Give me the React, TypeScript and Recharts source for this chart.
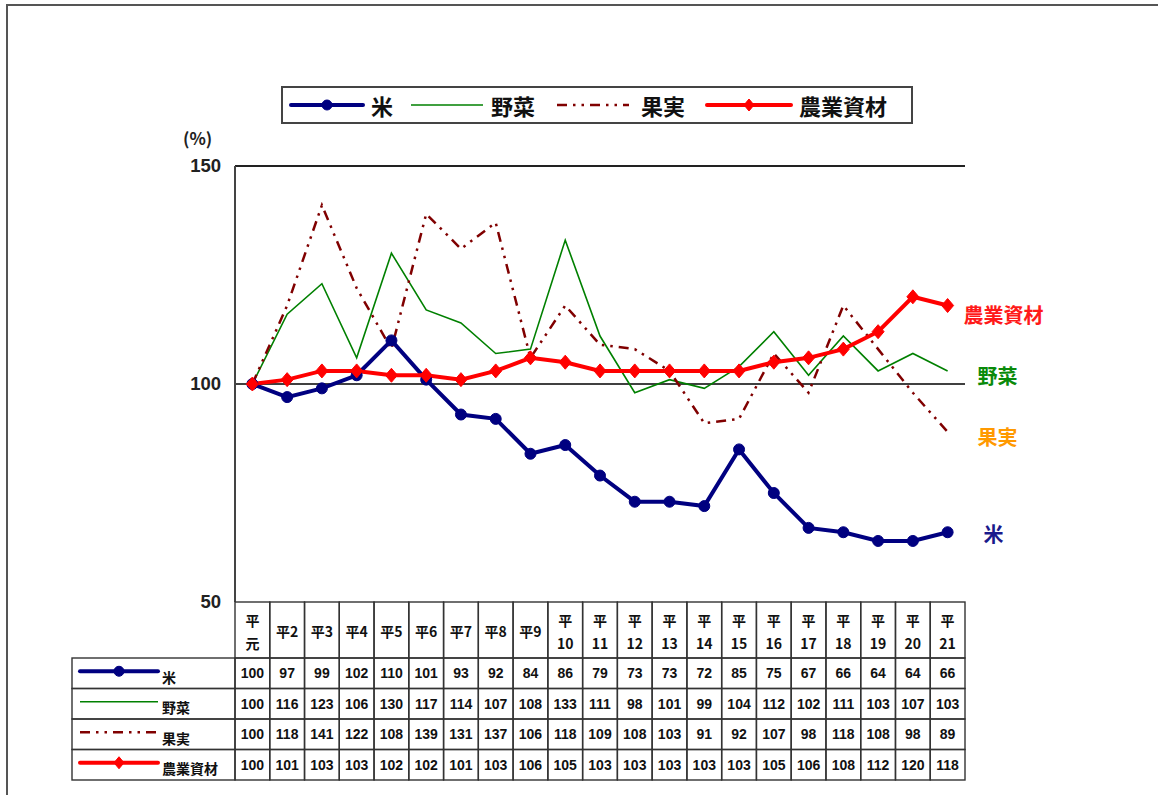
import { LineChart, Line, XAxis, YAxis, ReferenceLine } from "recharts"

const categories = [
  "平元", "平2", "平3", "平4", "平5", "平6", "平7", "平8", "平9", "平10", "平11",
  "平12", "平13", "平14", "平15", "平16", "平17", "平18", "平19", "平20", "平21",
]
const rice = [100, 97, 99, 102, 110, 101, 93, 92, 84, 86, 79, 73, 73, 72, 85, 75, 67, 66, 64, 64, 66]
const vegetables = [100, 116, 123, 106, 130, 117, 114, 107, 108, 133, 111, 98, 101, 99, 104, 112, 102, 111, 103, 107, 103]
const fruits = [100, 118, 141, 122, 108, 139, 131, 137, 106, 118, 109, 108, 103, 91, 92, 107, 98, 118, 108, 98, 89]
const materials = [100, 101, 103, 103, 102, 102, 101, 103, 106, 105, 103, 103, 103, 103, 103, 105, 106, 108, 112, 120, 118]
const yTicks = [50, 100, 150]

const data = categories.map((c, i) => ({
  name: c,
  rice: rice[i],
  vegetables: vegetables[i],
  fruits: fruits[i],
  materials: materials[i],
}))

const W = 1158
const H = 795
const PLOT_LEFT = 235
const PLOT_RIGHT = 965
const PLOT_TOP = 166
const PLOT_BOTTOM = 602
const COL_W = (PLOT_RIGHT - PLOT_LEFT) / categories.length
const HEADER_H = 56
const ROW_H = 30.5
const TABLE_LEFT = 72

const NUM_FONT = "'Liberation Sans', Arial, 'Noto Sans CJK JP', sans-serif"
const JP_FONT = "'Noto Sans CJK JP', 'Liberation Sans', sans-serif"

type Series = {
  key: string
  name: string
  values: number[]
  color: string
  width: number
  dash?: string
  marker?: "circle" | "diamond"
  labelColor: string
  labelDx: number
  labelDy: number
}

const series: Series[] = [
  { key: "rice", name: "米", values: rice, color: "#000080", width: 4, marker: "circle", labelColor: "#1a1a8c", labelDx: 36, labelDy: 3 },
  { key: "vegetables", name: "野菜", values: vegetables, color: "#008000", width: 1.6, labelColor: "#0a8a0a", labelDx: 30, labelDy: 6 },
  { key: "fruits", name: "果実", values: fruits, color: "#800000", width: 2.5, dash: "10 6 2.5 6 2.5 6", labelColor: "#ff9900", labelDx: 30, labelDy: 6 },
  { key: "materials", name: "農業資材", values: materials, color: "#ff0000", width: 4, marker: "diamond", labelColor: "#ff1a1a", labelDx: 16, labelDy: 10 },
]

// draw order: thin lines below thick ones
const drawOrder = ["vegetables", "fruits", "rice", "materials"]

function Marker({ s, cx, cy, size }: { s: Series; cx: number; cy: number; size: number }) {
  if (s.marker === "circle") return <circle cx={cx} cy={cy} r={size} fill={s.color} stroke={s.color} />
  if (s.marker === "diamond")
    return (
      <polygon
        points={`${cx},${cy - size - 1} ${cx + size},${cy} ${cx},${cy + size + 1} ${cx - size},${cy}`}
        fill={s.color}
        stroke={s.color}
      />
    )
  return null
}

function Sample({ s, x1, x2, y }: { s: Series; x1: number; x2: number; y: number }) {
  return (
    <g>
      <line x1={x1} x2={x2} y1={y} y2={y} stroke={s.color} strokeWidth={s.width} strokeDasharray={s.dash} strokeLinecap={s.marker ? "round" : "butt"} />
      <Marker s={s} cx={(x1 + x2) / 2} cy={y} size={5} />
    </g>
  )
}

function TableColumn(props: any) {
  const { x, index, payload } = props
  const label: string = payload.value
  const left = x - COL_W / 2
  const rest = label.slice(1)
  const twoLine = rest.length > 1 || isNaN(Number(rest))
  const stroke = "#333"
  return (
    <g>
      <rect x={left} y={PLOT_BOTTOM} width={COL_W} height={HEADER_H} fill="none" stroke={stroke} strokeWidth={1.4} />
      {twoLine ? (
        <text textAnchor="middle" fontFamily={JP_FONT} fontWeight="bold" fontSize={14} fill="#111">
          <tspan x={x} y={PLOT_BOTTOM + 24}>{label.slice(0, 1)}</tspan>
          <tspan x={x} y={PLOT_BOTTOM + 47}>{rest}</tspan>
        </text>
      ) : (
        <text x={x} y={PLOT_BOTTOM + 35} textAnchor="middle" fontFamily={JP_FONT} fontWeight="bold" fontSize={14} fill="#111">
          {label}
        </text>
      )}
      {series.map((s, r) => {
        const top = PLOT_BOTTOM + HEADER_H + r * ROW_H
        return (
          <g key={s.key}>
            <rect x={left} y={top} width={COL_W} height={ROW_H} fill="none" stroke={stroke} strokeWidth={1.4} />
            <text x={x} y={top + ROW_H / 2 + 5} textAnchor="middle" fontFamily={NUM_FONT} fontWeight="bold" fontSize={14} fill="#111">
              {s.values[index]}
            </text>
          </g>
        )
      })}
      {index === 0 &&
        series.map((s, r) => {
          const top = PLOT_BOTTOM + HEADER_H + r * ROW_H
          return (
            <g key={"lg" + s.key}>
              <rect x={TABLE_LEFT} y={top} width={PLOT_LEFT - TABLE_LEFT} height={ROW_H} fill="none" stroke={stroke} strokeWidth={1.4} />
              <Sample s={s} x1={80} x2={158} y={top + ROW_H / 2 - 2} />
              <text x={162} y={top + ROW_H - 6} fontFamily={JP_FONT} fontWeight="bold" fontSize={14} fill="#111">
                {s.name}
              </text>
            </g>
          )
        })}
    </g>
  )
}

function YTick(props: any) {
  const { x, y, payload } = props
  return (
    <text x={x} y={y + 6} textAnchor="end" fontFamily={NUM_FONT} fontWeight="bold" fontSize={18.5} fill="#222">
      {payload.value}
    </text>
  )
}

function endLabel(s: Series) {
  return (props: any) => {
    const { x, y, index } = props
    if (index !== s.values.length - 1) return <g />
    return (
      <text x={x + s.labelDx} y={y + s.labelDy + 7} fontFamily={JP_FONT} fontWeight="bold" fontSize={20} fill={s.labelColor}>
        {s.name}
      </text>
    )
  }
}

function dotFor(s: Series) {
  if (!s.marker) return false
  return (props: any) => {
    const { cx, cy, index } = props
    return <Marker key={index} s={s} cx={cx} cy={cy} size={s.marker === "circle" ? 5.5 : 6} />
  }
}

function ChartLegend() {
  const widths = [80, 80, 80, 92]
  return (
    <div
      style={{
        position: "absolute",
        left: 281,
        top: 86,
        width: 632,
        height: 38,
        border: "2px solid #444",
        display: "flex",
        alignItems: "center",
        paddingLeft: 4,
        boxSizing: "border-box",
        fontFamily: JP_FONT,
        fontWeight: "bold",
        fontSize: 22,
        color: "#111",
      }}
    >
      {series.map((s, i) => (
        <div key={s.key} style={{ display: "flex", alignItems: "center", marginRight: 6 }}>
          <svg width={widths[i]} height={20}>
            <Sample s={s} x1={4} x2={widths[i] - 4} y={10} />
          </svg>
          <span style={{ marginLeft: i === 2 ? 8 : 4, marginRight: i === 0 ? 8 : 12 }}>{s.name}</span>
        </div>
      ))}
    </div>
  )
}

export default function App() {
  const ordered = drawOrder.map((k) => series.find((s) => s.key === k)!)
  return (
    <div style={{ position: "absolute", left: 0, top: 0, width: W, height: H, background: "#fff", overflow: "hidden" }}>
      <div
        style={{
          position: "absolute",
          left: 6,
          top: 4,
          width: W,
          height: H,
          borderTop: "2px solid #555",
          borderLeft: "2px solid #555",
        }}
      />
      <ChartLegend />
      <div
        style={{
          position: "absolute",
          left: 183,
          top: 125,
          fontFamily: JP_FONT,
          fontWeight: "bold",
          fontSize: 17,
          color: "#222",
        }}
      >
        (%)
      </div>
      <div style={{ position: "absolute", left: 0, top: 0 }}>
        <LineChart
          width={W}
          height={H}
          data={data}
          margin={{ top: PLOT_TOP, right: W - PLOT_RIGHT, bottom: 0, left: PLOT_LEFT - 60 }}
        >
          <XAxis
            dataKey="name"
            interval={0}
            height={H - PLOT_BOTTOM}
            padding={{ left: COL_W / 2, right: COL_W / 2 }}
            tick={TableColumn}
            tickLine={false}
            axisLine={false}
          />
          <YAxis
            domain={[50, 150]}
            ticks={yTicks}
            width={60}
            tick={YTick}
            tickLine={false}
            tickSize={0}
            tickMargin={14}
            axisLine={{ stroke: "#444", strokeWidth: 2 }}
          />
          <ReferenceLine y={150} stroke="#222" strokeWidth={2} strokeOpacity={1} />
          <ReferenceLine y={100} stroke="#000" strokeWidth={1.3} strokeOpacity={1} />
          {ordered.map((s) => (
            <Line
              key={s.key}
              dataKey={s.key}
              name={s.name}
              type="linear"
              stroke={s.color}
              strokeWidth={s.width}
              strokeDasharray={s.dash}
              dot={dotFor(s)}
              activeDot={false}
              label={endLabel(s)}
              isAnimationActive={false}
            />
          ))}
        </LineChart>
      </div>
    </div>
  )
}
